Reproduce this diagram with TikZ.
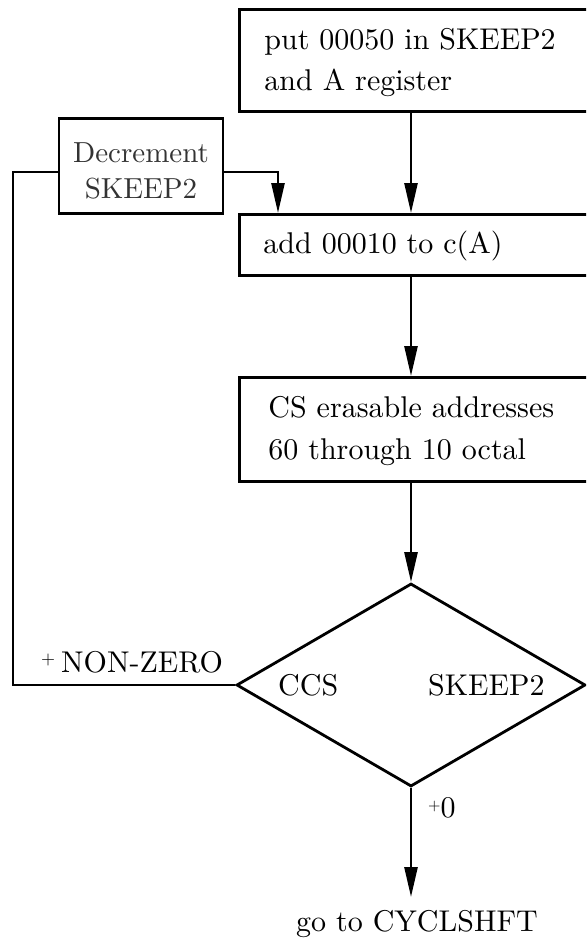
\documentclass[tikz,border=0pt]{standalone}
\usepackage{fontspec}
\setmainfont{lmroman10-regular.otf}
\usetikzlibrary{arrows.meta,shapes.geometric}
\begin{document}
\begin{tikzpicture}[x=1pt,y=-1pt,
  txt/.style={font=\fontsize{30}{41}\selectfont},
  box/.style={draw,line width=2.8pt,rectangle,txt,align=left,text width=320pt,anchor=north west},
  conn/.style={line width=2.6pt},
  arr/.style={conn,-{Triangle[length=30pt,width=13pt]}},
  lbl/.style={txt,inner sep=0pt,anchor=base west},
]
\useasboundingbox (0,0) rectangle (586,939);
\clip (0,0) rectangle (586,939);
\fill[white] (0,0) rectangle (586,939);

% reference coordinates
\coordinate (mx) at (411,0);
\coordinate (lx) at (278,0);
\coordinate (ex) at (13,0);
\coordinate (ly) at (0,172);
\coordinate (gend) at (411,897);

% boxes
\node[box,inner xsep=25pt,minimum height=102pt] (put) at (238,8)
  {\rule{0pt}{25pt}put 00050 in SKEEP2\\and A register};
\node[draw,line width=2.6pt,rectangle,align=center,minimum width=164pt,minimum height=95pt,
  font=\fontsize{29}{36}\selectfont,text=black!80,inner sep=0pt] (dec) at (141,166)
  {\rule{0pt}{30pt}Decrement\\SKEEP2};
\node[box,inner xsep=24pt,minimum height=61pt] (add) at (238,213)
  {\rule{0pt}{24pt}add 00010 to c(A)};
\node[box,inner xsep=29pt,minimum height=104pt,font=\fontsize{30}{42}\selectfont] (cs) at (238,376)
  {\rule{0pt}{24pt}CS erasable addresses\\60 through 10 octal};
\node[draw,line width=2.8pt,diamond,minimum width=349pt,minimum height=203pt,inner sep=0pt] (dia) at (411,685) {};

% labels
\node[lbl] (ccs) at (278,695) {CCS};
\node[lbl] (sk) at (428,695) {SKEEP2};
\node[lbl] (nz) at (41,672) {\raisebox{8pt}{\fontsize{18}{18}\selectfont +}\hspace{6pt}NON-ZERO};
\node[lbl] (pz) at (428,817) {\raisebox{7pt}{\fontsize{16}{16}\selectfont +}0};
\node[txt,inner sep=0pt,anchor=base] (go) at (417,931) {go to CYCLSHFT};

% connectors
\draw[arr] (put.south -| mx) -- (add.north -| mx);
\draw[arr] (add.south -| mx) -- (cs.north -| mx);
\draw[arr] (cs.south -| mx) -- (dia.north);
\draw[arr] (dia.south) -- (gend);
\draw[arr] (dec.east |- ly) -- (lx |- ly) -- (add.north -| lx);
\draw[conn] (dia.west) -- (dia.west -| ex) -- (ex |- ly) -- (dec.west |- ly);
\end{tikzpicture}
\end{document}
